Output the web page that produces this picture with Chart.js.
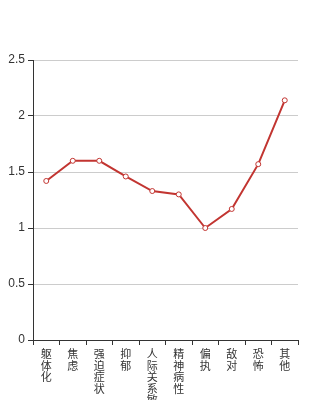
<!DOCTYPE html>
<html>
<head>
<meta charset="utf-8">
<script src="https://cdn.jsdelivr.net/npm/chart.js@4/dist/chart.umd.min.js"></script>
<style>
  html, body { margin: 0; padding: 0; background: #fff; }
  #wrap { width: 332px; height: 400px; }
</style>
</head>
<body>
<div id="wrap"><canvas id="c" width="332" height="400"></canvas></div>
<script>
// 各因子の平均値
const categories = ["躯体化", "焦虑", "强迫症状", "抑郁", "人际关系敏感", "精神病性", "偏执", "敌对", "恐怖", "其他"];
const scores = [1.42, 1.6, 1.6, 1.46, 1.33, 1.3, 1.0, 1.17, 1.57, 2.14];
const yTicks = [0, 0.5, 1, 1.5, 2, 2.5];

// 縦書きにするため1文字ずつ分割
const verticalLabels = categories.map((s) => Array.from(s));

new Chart(document.getElementById("c"), {
  type: "line",
  data: {
    labels: verticalLabels,
    datasets: [
      {
        data: scores,
        borderColor: "#c23531",
        borderWidth: 2,
        pointRadius: 2.5,
        pointBorderWidth: 1,
        pointBackgroundColor: "#fff",
        pointBorderColor: "#c23531",
        tension: 0,
        fill: false,
      },
    ],
  },
  options: {
    responsive: false,
    animation: false,
    layout: { padding: { top: 60, right: 34, left: 0, bottom: 0 } },
    plugins: { legend: { display: false }, tooltip: { enabled: false } },
    scales: {
      x: {
        offset: true,
        border: { color: "#333", width: 1 },
        grid: { display: true, drawOnChartArea: false, offset: true, tickLength: 5, color: "#333" },
        ticks: {
          maxRotation: 0,
          minRotation: 0,
          autoSkip: false,
          padding: 3,
          color: "#333",
          font: { family: "'Noto Sans CJK SC'", size: 11, lineHeight: 1.05 },
        },
        afterFit: (scale) => { scale.height = 60; },
      },
      y: {
        min: 0,
        max: 2.5,
        afterBuildTicks: (scale) => { scale.ticks = yTicks.map((v) => ({ value: v })); },
        border: { color: "#333", width: 1 },
        grid: { color: "#ccc", tickLength: 5, tickColor: "#333" },
        ticks: {
          padding: 3,
          color: "#333",
          font: { family: "'Liberation Sans'", size: 12 },
          callback: (v) => String(v),
        },
        afterFit: (scale) => { scale.width = 33; },
      },
    },
  },
});
</script>
</body>
</html>
